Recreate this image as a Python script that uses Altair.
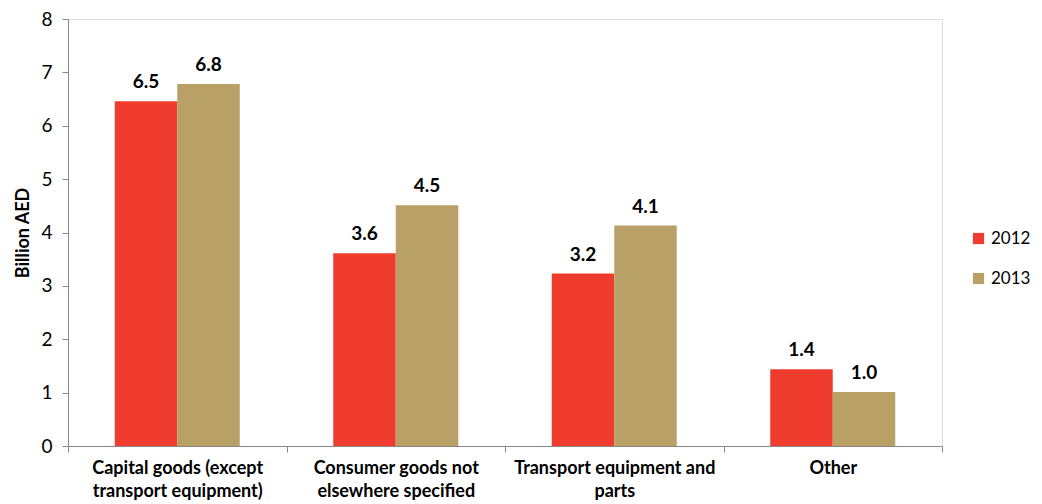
import json
import altair as alt
import pandas as pd

categories = [
    "Capital goods (except transport equipment)",
    "Consumer goods not elsewhere specified",
    "Transport equipment and parts",
    "Other",
]
label_lines = [
    ["Capital goods (except", "transport equipment)"],
    ["Consumer goods not", "elsewhere specified"],
    ["Transport equipment and", "parts"],
    ["Other"],
]
years = ["2012", "2013"]
values_2012 = [6.46, 3.61, 3.23, 1.44]
values_2013 = [6.78, 4.51, 4.13, 1.01]
colors = ["#F03C2F", "#B9A066"]

rows = []
for c, v1, v2 in zip(categories, values_2012, values_2013):
    rows.append({"category": c, "year": "2012", "value": v1})
    rows.append({"category": c, "year": "2013", "value": v2})
df = pd.DataFrame(rows)

label_map = json.dumps(dict(zip(categories, label_lines)))
FONT = "Lato"

base = alt.Chart(df).encode(
    x=alt.X(
        "category:N",
        sort=categories,
        scale=alt.Scale(paddingInner=0, paddingOuter=0),
        axis=alt.Axis(
            title=None,
            labelAngle=0,
            labelExpr=f"{label_map}[datum.value]",
            labelFont=FONT,
            labelFontSize=18,
            labelFontWeight="bold",
            labelColor="#000000",
            labelLineHeight=23,
            labelPadding=7,
            labelBaseline="top",
            labelLimit=300,
            tickBand="extent",
            tickSize=6,
            tickColor="#888888",
            domainColor="#888888",
        ),
    ),
    xOffset=alt.XOffset("year:N", sort=years, scale=alt.Scale(paddingOuter=0.748, paddingInner=0)),
)

bars = base.mark_bar().encode(
    y=alt.Y(
        "value:Q",
        scale=alt.Scale(domain=[0, 8], nice=False),
        axis=alt.Axis(
            title="Billion AED",
            values=list(range(0, 9)),
            grid=False,
            labelFont=FONT,
            labelFontSize=19,
            labelColor="#000000",
            labelPadding=10,
            tickSize=6,
            tickColor="#888888",
            domainColor="#888888",
            titleFont=FONT,
            titleFontSize=18,
            titleFontWeight="bold",
            titleColor="#000000",
            titlePadding=8,
        ),
    ),
    color=alt.Color(
        "year:N",
        sort=years,
        scale=alt.Scale(domain=years, range=colors),
        legend=alt.Legend(
            title=None,
            orient="none",
            legendX=902,
            legendY=211,
            symbolType="square",
            symbolSize=125,
            symbolStrokeWidth=0,
            labelFont=FONT,
            labelFontSize=17,
            labelColor="#000000",
            rowPadding=22,
            labelOffset=4,
            labelLimit=100,
        ),
    ),
)

texts = base.mark_text(
    baseline="bottom", dy=-9, font=FONT, fontSize=19, fontWeight="bold", color="#000000"
).encode(
    y="value:Q",
    text=alt.Text("value:Q", format=".1f"),
)

chart = (
    alt.layer(bars, texts)
    .properties(
        width=874,
        height=427,
        autosize=alt.AutoSizeParams(type="none"),
        padding={"left": 60, "top": 11, "right": 92, "bottom": 56},
    )
    .configure_view(stroke=None)
    .configure(background="#ffffff")
)

chart.save("out.html", embed_options={"renderer": "svg", "actions": False})
